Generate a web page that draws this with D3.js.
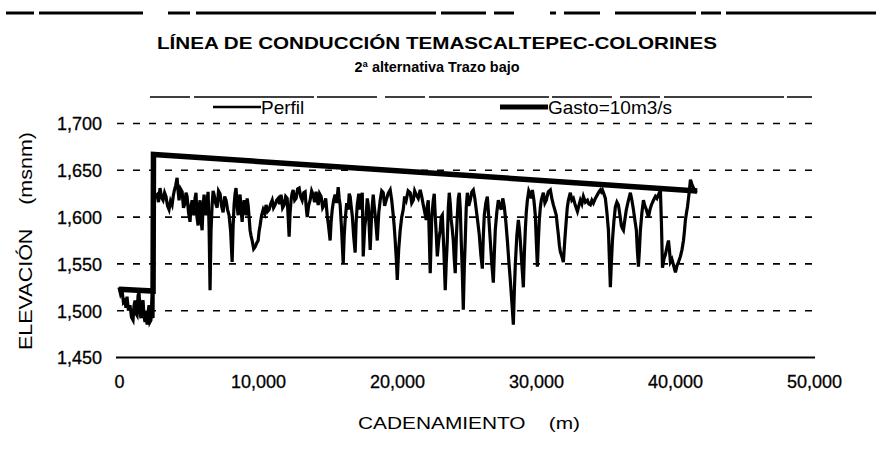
<!DOCTYPE html>
<html>
<head>
<meta charset="utf-8">
<script src="https://cdn.jsdelivr.net/npm/d3@7"></script>
<style>
  html, body { margin: 0; padding: 0; background: #fff; }
  svg { display: block; }
  text { font-family: "Liberation Sans", Arial, sans-serif; fill: #000; }
</style>
</head>
<body>
<svg id="chart" width="876" height="457"></svg>
<script>
// Perfil del terreno: [cadenamiento (m), elevación (msnm)]
const perfil = [
  [0,1525],[110,1518],[216,1522],[320,1509],[430,1511],[500,1503],[576,1515],[680,1500],[790,1506],
  [900,1493],[1010,1490],[1080,1505],[1150,1511],[1220,1497],[1300,1495],[1370,1516],[1440,1520],
  [1510,1500],[1580,1492],[1650,1508],[1730,1511],[1800,1494],[1870,1488],[1950,1500],[2020,1485],
  [2090,1498],[2160,1506],[2230,1488],[2300,1490],[2380,1519],[2420,1500],[2450,1492],[2500,1629],
  [2600,1622],[2740,1624],[2840,1616],[2950,1631],[3060,1621],[3170,1618],[3280,1626],[3380,1622],
  [3490,1612],[3600,1608],[3710,1617],[3820,1613],[3900,1622],[3960,1627],[4080,1634],[4180,1642],
  [4250,1628],[4320,1618],[4430,1630],[4540,1627],[4640,1610],[4750,1615],[4820,1626],[4900,1622],
  [5000,1605],[5110,1595],[5180,1612],[5260,1618],[5330,1606],[5400,1602],[5470,1620],[5540,1626],
  [5610,1600],[5690,1591],[5760,1610],[5830,1618],[5900,1597],[5980,1586],[6050,1612],[6120,1624],
  [6190,1608],[6260,1602],[6340,1618],[6410,1627],[6480,1590],[6550,1522],[6620,1585],[6700,1613],
  [6770,1628],[6840,1624],[6950,1615],[7060,1610],[7160,1628],[7270,1625],[7380,1612],[7490,1605],
  [7600,1622],[7700,1618],[7810,1608],[7920,1602],[8030,1585],[8140,1552],[8210,1590],[8280,1613],
  [8350,1625],[8420,1631],[8500,1612],[8570,1602],[8640,1620],[8710,1624],[8790,1606],[8860,1595],
  [8930,1611],[9000,1618],[9080,1608],[9150,1602],[9220,1620],[9290,1613],[9360,1600],[9430,1586],
  [9500,1580],[9580,1575],[9690,1566],[9790,1568],[9900,1572],[10010,1575],[10080,1585],[10150,1591],
  [10260,1602],[10370,1608],[10480,1604],[10580,1613],[10690,1606],[10800,1608],[10910,1614],
  [11020,1618],[11120,1610],[11230,1613],[11340,1618],[11450,1620],[11550,1614],[11660,1624],
  [11770,1610],[11880,1613],[11990,1622],[12100,1620],[12170,1600],[12240,1579],[12310,1605],
  [12380,1618],[12450,1625],[12530,1629],[12640,1618],[12740,1620],[12850,1630],[12960,1631],
  [13070,1622],[13180,1618],[13290,1626],[13390,1627],[13460,1612],[13540,1600],[13640,1612],
  [13750,1618],[13860,1628],[13970,1624],[14070,1616],[14180,1627],[14250,1620],[14330,1613],
  [14430,1625],[14540,1622],[14650,1610],[14760,1613],[14870,1620],[14980,1602],[15080,1590],
  [15190,1575],[15260,1595],[15340,1608],[15440,1618],[15550,1624],[15660,1615],[15770,1632],
  [15840,1620],[15910,1613],[16020,1585],[16130,1550],[16200,1580],[16270,1597],[16380,1615],
  [16490,1608],[16560,1625],[16630,1622],[16700,1612],[16780,1602],[16880,1580],[16990,1562],
  [17060,1595],[17140,1613],[17250,1625],[17350,1608],[17420,1618],[17500,1626],[17540,1590],
  [17570,1558],[17680,1590],[17780,1602],[17860,1620],[17930,1613],[18000,1590],[18070,1565],
  [18180,1605],[18290,1624],[18360,1612],[18430,1602],[18500,1590],[18580,1575],[18690,1605],
  [18790,1618],[18900,1628],[19010,1626],[19110,1612],[19220,1618],[19360,1625],[19510,1629],
  [19620,1618],[19730,1602],[19800,1590],[19870,1575],[19950,1555],[20020,1533],[20120,1565],
  [20230,1586],[20340,1600],[20450,1608],[20550,1622],[20660,1618],[20800,1628],[20950,1626],
  [21060,1615],[21170,1618],[21270,1628],[21380,1624],[21530,1620],[21670,1629],[21780,1622],
  [21890,1613],[22000,1605],[22100,1597],[22180,1612],[22250,1618],[22320,1580],[22390,1540],
  [22500,1600],[22610,1618],[22680,1625],[22750,1602],[22830,1580],[22900,1558],[23000,1575],
  [23110,1586],[23180,1600],[23260,1602],[23370,1565],[23470,1522],[23540,1550],[23620,1575],
  [23690,1610],[23760,1626],[23830,1615],[23900,1597],[23970,1588],[24050,1575],[24120,1555],
  [24190,1540],[24260,1575],[24340,1602],[24410,1620],[24480,1626],[24550,1610],[24620,1575],
  [24700,1540],[24770,1501],[24840,1545],[24910,1575],[24980,1610],[25060,1626],[25160,1612],
  [25270,1618],[25380,1627],[25490,1629],[25600,1620],[25700,1608],[25810,1595],[25920,1581],
  [26030,1560],[26140,1545],[26210,1580],[26280,1602],[26390,1615],[26500,1622],[26600,1600],
  [26710,1575],[26820,1550],[26930,1530],[27000,1560],[27070,1586],[27180,1605],[27290,1618],
  [27400,1612],[27500,1608],[27610,1620],[27720,1611],[27830,1595],[27940,1575],[28050,1552],
  [28150,1533],[28260,1510],[28370,1485],[28440,1520],[28510,1549],[28620,1580],[28730,1597],
  [28800,1588],[28870,1575],[28980,1550],[29090,1525],[29160,1560],[29230,1586],[29300,1605],
  [29380,1618],[29480,1628],[29590,1624],[29660,1620],[29740,1629],[29850,1618],[29950,1602],
  [30020,1575],[30100,1547],[30170,1575],[30240,1597],[30310,1610],[30380,1618],[30450,1622],
  [30530,1626],[30640,1615],[30740,1618],[30880,1627],[31030,1629],[31140,1620],[31250,1613],
  [31350,1608],[31460,1602],[31540,1590],[31610,1581],[31680,1570],[31750,1563],[31860,1558],
  [31970,1552],[32070,1575],[32180,1597],[32250,1610],[32330,1618],[32400,1622],[32470,1626],
  [32580,1618],[32690,1620],[32840,1612],[32980,1606],[33080,1612],[33190,1618],[33300,1614],
  [33410,1622],[33550,1616],[33700,1618],[33800,1614],[33910,1613],[34020,1618],[34130,1615],
  [34270,1620],[34420,1624],[34530,1627],[34630,1629],[34700,1627],[34780,1629],[34880,1625],
  [34990,1620],[35100,1605],[35210,1586],[35280,1555],[35350,1525],[35420,1550],[35500,1575],
  [35600,1595],[35710,1611],[35820,1616],[35930,1613],[36040,1602],[36140,1591],[36210,1588],
  [36290,1586],[36400,1598],[36500,1608],[36650,1618],[36790,1626],[36900,1618],[37010,1608],
  [37110,1597],[37220,1586],[37290,1565],[37370,1547],[37440,1565],[37510,1586],[37620,1605],
  [37730,1618],[37830,1612],[37940,1608],[38010,1604],[38090,1600],[38200,1608],[38300,1613],
  [38450,1618],[38590,1622],[38700,1620],[38810,1624],[38880,1626],[38950,1629],[39030,1590],
  [39100,1546],[39200,1555],[39310,1560],[39420,1568],[39530,1575],[39600,1565],[39670,1552],
  [39780,1555],[39890,1549],[39960,1545],[40030,1541],[40140,1548],[40250,1552],[40320,1555],
  [40390,1558],[40500,1565],[40610,1575],[40680,1585],[40750,1597],[40830,1605],[40900,1611],
  [40970,1620],[41040,1629],[41110,1640],[41220,1635],[41330,1631],[41450,1628],[41540,1626]
];

// Línea de gradiente hidráulico para Gasto = 10 m3/s
const gasto = [[0,1523],[2450,1521],[2480,1667],[41600,1628]];

const xTicks = [0, 10000, 20000, 30000, 40000, 50000];
const yTicks = [1450, 1500, 1550, 1600, 1650, 1700];
const seriesNames = ["Perfil", "Gasto=10m3/s"];

const svg = d3.select("#chart");
svg.append("rect").attr("width", 876).attr("height", 457).attr("fill", "#fff");

const x = d3.scaleLinear().domain([0, 50000]).range([119, 814]);
const y = d3.scaleLinear().domain([1450, 1700]).range([357.5, 123.5]);

// Línea superior del encabezado
svg.append("line")
  .attr("x1", 6).attr("x2", 876).attr("y1", 13).attr("y2", 13)
  .attr("stroke", "#000").attr("stroke-width", 3)
  .attr("stroke-dasharray", "28,5 104,25 22,6 240,5 45,8 20,36 6,8 36,15 81,5 20,5 150,0");

// Títulos
svg.append("text").attr("x", 437).attr("y", 49).attr("text-anchor", "middle")
  .attr("font-size", 17).attr("font-weight", "bold")
  .attr("textLength", 560).attr("lengthAdjust", "spacingAndGlyphs")
  .text("LÍNEA DE CONDUCCIÓN TEMASCALTEPEC-COLORINES");
svg.append("text").attr("x", 437).attr("y", 72).attr("text-anchor", "middle")
  .attr("font-size", 15).attr("font-weight", "bold")
  .attr("textLength", 165).attr("lengthAdjust", "spacingAndGlyphs")
  .text("2ª alternativa Trazo bajo");

// Cuadrícula horizontal
const grid = svg.append("g");
grid.selectAll("line").data(yTicks.filter(v => v > 1450)).join("line")
  .attr("x1", 117).attr("x2", 815)
  .attr("y1", d => y(d)).attr("y2", d => y(d))
  .attr("stroke", "#000").attr("stroke-width", 1.6)
  .attr("stroke-dasharray", "7,9");

// Eje horizontal (base)
svg.append("line")
  .attr("x1", 116).attr("x2", 815).attr("y1", y(1450)).attr("y2", y(1450))
  .attr("stroke", "#000").attr("stroke-width", 2);

// Ejes con etiquetas
const fmt = d3.format(",");
const yAxis = d3.axisLeft(y).tickValues(yTicks).tickFormat(fmt).tickSize(0).tickPadding(0);
const gy = svg.append("g").attr("transform", "translate(102,0)").call(yAxis);
gy.select(".domain").remove();
gy.selectAll("text").attr("font-size", 18).attr("font-family", "Liberation Sans, Arial, sans-serif")
  .attr("stroke", "#000").attr("stroke-width", 0.3).attr("dy", "0.35em");

const xAxis = d3.axisBottom(x).tickValues(xTicks).tickFormat(fmt).tickSize(0).tickPadding(0);
const gx = svg.append("g").attr("transform", "translate(0,388)").call(xAxis);
gx.select(".domain").remove();
gx.selectAll("text").attr("font-size", 18).attr("font-family", "Liberation Sans, Arial, sans-serif")
  .attr("stroke", "#000").attr("stroke-width", 0.3).attr("dy", 0);

// Títulos de ejes
svg.append("text").attr("x", 469).attr("y", 429).attr("text-anchor", "middle")
  .attr("font-size", 17).attr("textLength", 222).attr("lengthAdjust", "spacingAndGlyphs")
  .attr("xml:space", "preserve")
  .text("CADENAMIENTO    (m)");
svg.append("text").attr("transform", "translate(32,241) rotate(-90)")
  .attr("text-anchor", "middle").attr("font-size", 18)
  .attr("textLength", 218).attr("lengthAdjust", "spacingAndGlyphs")
  .attr("xml:space", "preserve")
  .text("ELEVACIÓN    (msnm)");

// Series
const line = d3.line().x(d => x(d[0])).y(d => y(d[1]));

svg.append("path").datum(perfil).attr("d", line)
  .attr("fill", "none").attr("stroke", "#000").attr("stroke-width", 3.2)
  .attr("stroke-linejoin", "miter");
svg.append("path").datum(gasto).attr("d", line)
  .attr("fill", "none").attr("stroke", "#000").attr("stroke-width", 5.5)
  .attr("stroke-linejoin", "miter");

// Leyenda
svg.append("line").attr("x1", 150).attr("x2", 812).attr("y1", 97).attr("y2", 97)
  .attr("stroke", "#000").attr("stroke-width", 1.5).attr("stroke-dasharray", "40,4 120,3 60,8");
const legend = svg.append("g");
const legendX = [213, 500];
const legendW = [2.6, 5];
seriesNames.forEach((name, i) => {
  legend.append("line").attr("x1", legendX[i]).attr("x2", legendX[i] + 48)
    .attr("y1", 107).attr("y2", 107).attr("stroke", "#000").attr("stroke-width", legendW[i]);
  legend.append("text").attr("x", legendX[i] + 48).attr("y", 114)
    .attr("font-size", 19).text(name);
});
</script>
</body>
</html>
